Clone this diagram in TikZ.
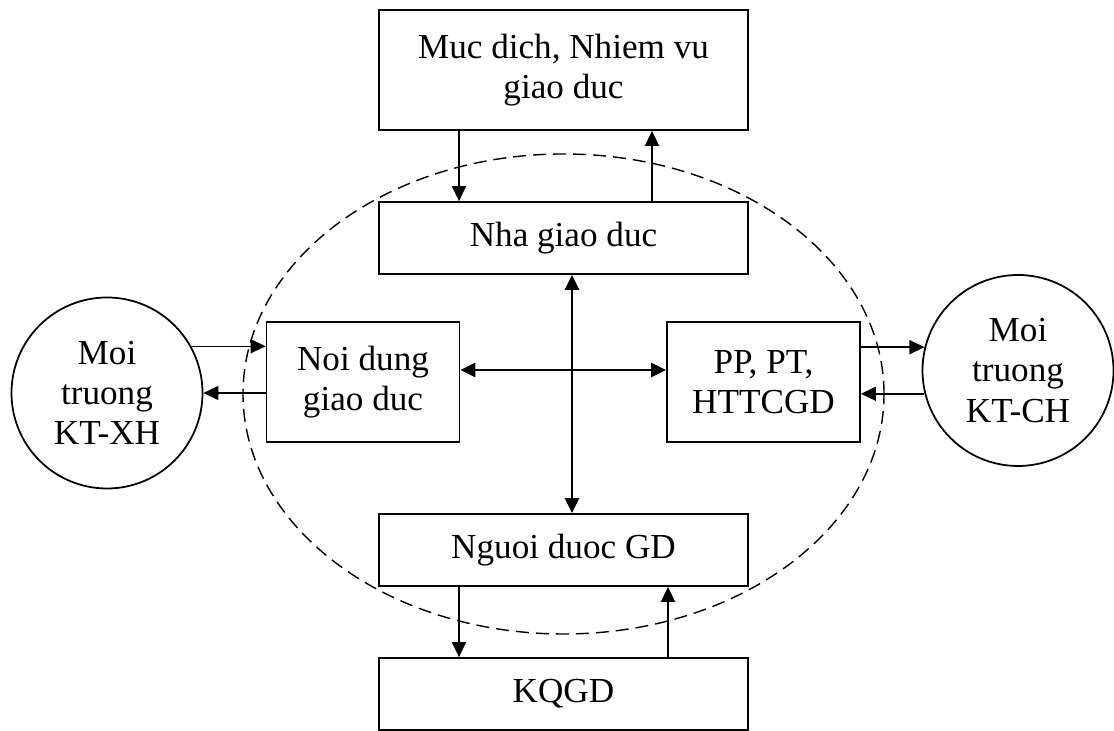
\documentclass[tikz,border=0pt]{standalone}
\usepackage{fontspec}
\setmainfont{Liberation Serif}
\usetikzlibrary{arrows.meta}

\begin{document}
\begin{tikzpicture}
  [scale=1,every node/.style={align=center,inner sep=0pt,font=\fontsize{20}{22.8}\selectfont},
   >={Triangle[length=0.3cm,width=0.28cm]}]
  \tikzstyle{box} = [draw,line width=1pt,shape=rectangle,minimum width=7.38cm,minimum height=1.44cm]
  \tikzstyle{sidebox} = [box,minimum width=3.86cm,minimum height=2.4cm]
  \tikzstyle{env} = [draw,line width=1pt,shape=circle,minimum size=3.82cm]
  \tikzstyle{link} = [->,line width=0.8pt]
  \tikzstyle{mainlink} = [<->,line width=1.6pt]
  \useasboundingbox (0,0) rectangle (22.28,14.62);
  \draw[line width=0.8pt,dash pattern=on 0.26cm off 0.14cm] (11.27,6.74) ellipse (6.41cm and 4.8cm);
  \node[box,minimum height=2.4cm] (muc) at (11.27,13.22) {Muc dich, Nhiem vu\\giao duc};
  \node[box] (nha) at (11.27,9.86) {Nha giao duc};
  \node[box] (nguoi) at (11.27,3.62) {Nguoi duoc GD};
  \node[box] (kq) at (11.27,0.74) {KQGD};
  \node[sidebox] (noidung) at (7.26,6.98) {Noi dung\\giao duc};
  \node[sidebox] (pp) at (15.27,6.98) {PP, PT,\\HTTCGD};
  \node[env] (ktxh) at (2.14,6.76) {Moi\\truong\\KT-XH};
  \node[env] (ktch) at (20.36,7.21) {Moi\\truong\\KT-CH};
  \draw[link] ([xshift=-2.09cm]muc.south) -- ([xshift=-2.09cm]nha.north);
  \draw[link] ([xshift=1.77cm]nha.north) -- ([xshift=1.77cm]muc.south);
  \draw[link] ([xshift=-2.09cm]nguoi.south) -- ([xshift=-2.09cm]kq.north);
  \draw[link] ([xshift=2.09cm]kq.north) -- ([xshift=2.09cm]nguoi.south);
  \draw[mainlink] ([xshift=0.17cm]nha.south) -- ([xshift=0.17cm]nguoi.north);
  \draw[mainlink] ([yshift=0.24cm]noidung.east) -- ([yshift=0.24cm]pp.west);
  \draw[link] (ktxh.29) -- (ktxh.29 -| noidung.west);
  \draw[link] (ktxh.east -| noidung.west) -- (ktxh.east);
  \draw[link] (ktch.166 -| pp.east) -- (ktch.166);
  \draw[link] (ktch.194) -- (ktch.194 -| pp.east);
\end{tikzpicture}
\end{document}
